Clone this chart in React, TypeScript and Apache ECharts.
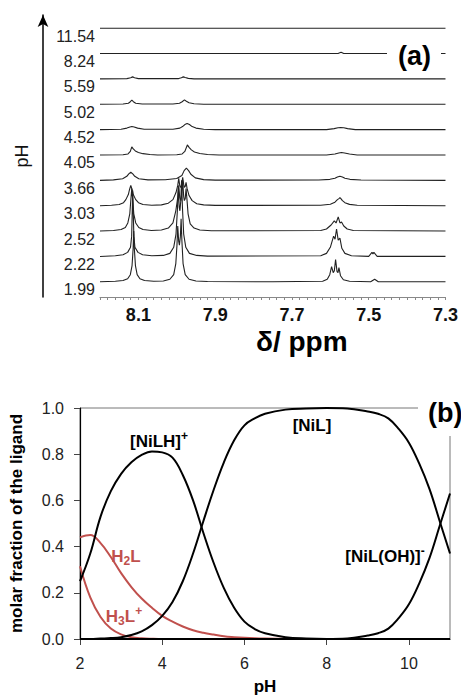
import React, { useEffect, useRef } from 'react';
import * as echarts from 'echarts';

const FONT = '"Liberation Sans", Arial, Helvetica, sans-serif';
const RED = '#c0504d';

// ---------- panel (a): 1H NMR spectra ----------
const PH_LABELS = ['1.99', '2.22', '2.52', '3.03', '3.66', '4.05', '4.52', '5.02', '5.59', '8.24', '11.54'];
const PPM_LABELS = [8.1, 7.9, 7.7, 7.5, 7.3];
const TRACE_STEP = 25; // intensity units between stacked traces

// [ppm, intensity]
const S_199 = [[8.2,0],[8.16,0.5],[8.14,1.2],[8.128,3],[8.121,7],[8.1165,16],[8.1138,32],[8.1121,50],[8.1104,32],[8.1077,16],[8.1032,7],[8.096,3],[8.084,1.2],[8.06,0.5],
  [8.035,0.8],[8.018,2.5],[8.008,7],[8.0025,18],[7.9995,36],[7.9975,55],[7.995,40],[7.9931,36],[7.9906,45],[7.9887,62],[7.9866,40],[7.9836,18],[7.978,7],[7.968,2.5],[7.95,0.8],[7.92,0.3],
  [7.75,0],[7.62,0.6],[7.608,2.5],[7.6015,7],[7.5967,15],[7.5925,9],[7.5895,11],[7.5863,22],[7.5825,10],[7.58,9],[7.5776,14],[7.5735,6],[7.566,2],[7.55,0.6],
  [7.495,0],[7.4845,2.5],[7.475,0],[7.3,0]];
const S_222 = [[8.2,0],[8.16,0.7],[8.14,1.6],[8.128,4],[8.1205,9],[8.1175,20],[8.1163,40],[8.1147,65],[8.1131,40],[8.1118,20],[8.109,9],[8.101,4],[8.089,1.6],[8.065,0.7],
  [8.035,1],[8.018,3],[8.008,9],[8.002,22],[7.9985,45],[7.996,68],[7.9935,48],[7.9918,45],[7.9895,55],[7.9875,75],[7.9852,48],[7.982,22],[7.9765,9],[7.967,3],[7.948,1],[7.92,0.3],
  [7.625,0.7],[7.61,3],[7.6,9],[7.5945,16],[7.5915,20],[7.5877,17],[7.5838,27],[7.5795,16],[7.575,18],[7.57,8],[7.562,3],[7.545,0.7],
  [7.5,0],[7.4915,4],[7.489,2.5],[7.4865,4],[7.478,0],[7.3,0]];
const S_252 = [[8.2,0],[8.165,0.6],[8.145,1.5],[8.134,3.5],[8.1275,8],[8.1224,17],[8.1198,30],[8.1172,42],[8.1146,30],[8.112,17],[8.1069,8],[8.099,3.5],[8.088,1.5],[8.066,0.6],
  [8.04,1],[8.022,3],[8.01,8],[8.0025,20],[7.9975,33],[7.9949,45],[7.9923,33],[7.9897,30],[7.9872,36],[7.9846,50],[7.982,34],[7.9802,30],[7.978,32],[7.9758,42],[7.9732,30],[7.9706,17],[7.965,7],[7.955,3],[7.94,1],[7.91,0.3],
  [7.625,0.5],[7.61,2],[7.598,6],[7.5897,10],[7.585,8],[7.5794,14],[7.575,8],[7.5708,9],[7.565,5],[7.556,2],[7.54,0.5],[7.3,0]];
const S_303 = [[8.2,0],[8.17,0.5],[8.15,1.2],[8.1387,3],[8.1327,6],[8.1262,11],[8.123,16],[8.1198,20],[8.1166,16],[8.1134,11],[8.1069,6],[8.0998,3],[8.088,1.2],[8.065,0.5],
  [8.04,0.8],[8.022,2.5],[8.01,6],[8.002,13],[7.9975,20],[7.9949,27],[7.9923,20],[7.9897,18],[7.9872,21],[7.9846,28],[7.982,21],[7.9802,18],[7.978,19],[7.9758,23],[7.9732,17],[7.968,10],[7.96,5],[7.948,2],[7.93,0.8],[7.9,0.3],
  [7.625,0.4],[7.6,1.5],[7.588,3.5],[7.5815,6],[7.5775,7],[7.575,8],[7.5725,7],[7.5685,5],[7.562,3],[7.55,1.3],[7.53,0.4],[7.3,0]];
const S_366 = [[8.2,0],[8.165,0.5],[8.141,1.6],[8.1302,4],[8.125,6.4],[8.1198,8],[8.1146,6.4],[8.1094,4],[8.099,1.6],[8.075,0.5],
  [8.03,0.6],[8.0,1.8],[7.9867,4.8],[7.9808,9.6],[7.975,12],[7.9692,9.6],[7.9633,6],[7.9517,2.4],[7.93,0.7],[7.9,0.2],
  [7.63,0.3],[7.601,1],[7.588,2],[7.5815,3.2],[7.575,4],[7.5685,3.2],[7.562,2],[7.549,1],[7.52,0.3],[7.3,0]];
const S_405 = [[8.2,0],[8.14,0.3],[8.127,1],[8.121,3.5],[8.1172,8],[8.1133,6],[8.108,4],[8.1,2.5],[8.088,1.3],[8.07,0.5],[8.05,0],
  [8.0,0.3],[7.986,1],[7.979,3.5],[7.9724,10],[7.968,7.5],[7.962,5],[7.954,3],[7.94,1.5],[7.92,0.5],[7.89,0],
  [7.61,0],[7.588,1],[7.578,2],[7.571,2.5],[7.563,2],[7.55,1],[7.53,0],[7.3,0]];
const S_452 = [[8.2,0],[8.145,0.3],[8.13,1.5],[8.122,2.6],[8.117,3],[8.111,2.6],[8.102,1.5],[8.085,0.3],
  [8.01,0.4],[7.992,1.5],[7.985,3],[7.979,5],[7.973,6],[7.967,5],[7.96,3],[7.95,1.5],[7.93,0.4],[7.9,0],
  [7.61,0],[7.59,1],[7.58,1.8],[7.573,2],[7.565,1.8],[7.555,1],[7.535,0],[7.3,0]];
const S_502 = [[8.2,0],[8.14,0.3],[8.126,1],[8.121,2.5],[8.117,4],[8.113,2.5],[8.107,1],[8.09,0.3],
  [8.01,0.3],[7.993,1],[7.986,2.5],[7.98,4.3],[7.975,3],[7.968,1.5],[7.955,0.5],[7.93,0],[7.3,0]];
const S_559 = [[8.2,0],[8.13,0.3],[8.12,1.2],[8.115,2],[8.11,1.2],[8.1,0.3],
  [7.995,0.3],[7.988,1.2],[7.983,2],[7.978,1.3],[7.97,0.5],[7.955,0],[7.3,0]];
const S_824 = [[8.2,0],[7.58,0],[7.572,1.2],[7.565,0],[7.3,0]];
const S_1154 = [[8.2,0],[7.3,0]];
const SPECTRA = [S_199, S_222, S_252, S_303, S_366, S_405, S_452, S_502, S_559, S_824, S_1154];

// ---------- panel (b): speciation ----------
const PH = [2, 2.25, 2.5, 2.75, 3, 3.25, 3.5, 3.75, 4, 4.25, 4.5, 4.75, 5, 5.25, 5.5, 5.75, 6, 6.25, 6.5, 7, 7.5, 8, 8.5, 9, 9.25, 9.5, 9.75, 10, 10.25, 10.5, 10.75, 11];
const H3L = [0.315, 0.18, 0.095, 0.045, 0.02, 0.008, 0.003, 0.001, 0, 0, 0, 0, 0, 0, 0, 0, 0, 0, 0, 0, 0, 0, 0, 0, 0, 0, 0, 0, 0, 0, 0, 0];
const H2L = [0.44, 0.45, 0.415, 0.355, 0.285, 0.225, 0.175, 0.135, 0.10, 0.075, 0.054, 0.038, 0.027, 0.019, 0.012, 0.008, 0.005, 0.003, 0.002, 0.001, 0, 0, 0, 0, 0, 0, 0, 0, 0, 0, 0, 0];
const NILH = [0.25, 0.37, 0.53, 0.64, 0.715, 0.765, 0.797, 0.812, 0.808, 0.785, 0.71, 0.60, 0.46, 0.33, 0.22, 0.135, 0.075, 0.043, 0.025, 0.008, 0.002, 0, 0, 0, 0, 0, 0, 0, 0, 0, 0, 0];
const NIL = [0, 0, 0.002, 0.004, 0.008, 0.017, 0.033, 0.06, 0.10, 0.16, 0.25, 0.37, 0.51, 0.645, 0.765, 0.86, 0.925, 0.955, 0.975, 0.993, 0.998, 1.0, 0.998, 0.985, 0.975, 0.955, 0.91, 0.85, 0.76, 0.65, 0.51, 0.37];
const NILOH = [0, 0, 0, 0, 0, 0, 0, 0, 0, 0, 0, 0, 0, 0, 0, 0, 0, 0, 0, 0, 0, 0, 0.002, 0.015, 0.025, 0.045, 0.09, 0.15, 0.24, 0.35, 0.49, 0.63];

const pair = (ys: number[]) => PH.map((x, i) => [x, ys[i]]);

export default function App() {
  const ref = useRef<HTMLDivElement>(null);
  useEffect(() => {
    if (!ref.current) return;
    const chart = echarts.init(ref.current, undefined, { renderer: 'svg' });

    const spectraSeries = SPECTRA.map((pts, i) => ({
      type: 'line',
      xAxisIndex: 0,
      yAxisIndex: 0,
      data: pts.map(([p, v]) => [p, v + i * TRACE_STEP]),
      showSymbol: false,
      silent: true,
      lineStyle: { color: '#222', width: 1.1 },
    }));

    const spec = (data: number[], color: string) => ({
      type: 'line',
      xAxisIndex: 1,
      yAxisIndex: 2,
      data: pair(data),
      smooth: 0.4,
      showSymbol: false,
      silent: true,
      lineStyle: { color, width: 2 },
    });

    const lblStyle = (text: string, color: string) => ({
      text,
      fill: color,
      font: `bold 17px ${FONT}`,
      align: 'center',
      verticalAlign: 'middle',
      rich: {
        m: { fontSize: 17, fontWeight: 'bold', fontFamily: FONT, fill: color, lineHeight: 22, verticalAlign: 'middle' },
        sub: { fontSize: 12, fontWeight: 'bold', fontFamily: FONT, fill: color, lineHeight: 12, verticalAlign: 'bottom' },
        sup: { fontSize: 12, fontWeight: 'bold', fontFamily: FONT, fill: color, lineHeight: 12, verticalAlign: 'top' },
      },
    });

    const option: any = {
      animation: false,
      textStyle: { fontFamily: FONT },
      title: [
        { text: '(a)', left: 387, top: 39, padding: [3, 10, 5, 11], backgroundColor: '#fff',
          textStyle: { fontSize: 27, fontWeight: 'bold', color: '#000', fontFamily: FONT } },
        { text: '(b)', left: 418, top: 395, padding: [4, 6, 10, 10], backgroundColor: '#fff',
          textStyle: { fontSize: 27, fontWeight: 'bold', color: '#000', fontFamily: FONT } },
      ],
      grid: [
        { left: 100, right: 13, top: 15, height: 282 },
        { left: 79, right: 11, top: 408, height: 241, show: true, borderColor: '#777', borderWidth: 1, backgroundColor: 'transparent' },
      ],
      xAxis: [
        {
          gridIndex: 0, type: 'value', min: 7.3, max: 8.2, inverse: true, interval: 0.02, position: 'bottom',
          axisLine: { onZero: false, lineStyle: { color: '#888', width: 1 } },
          axisTick: { length: 3, lineStyle: { color: '#888' } },
          splitLine: { show: false },
          axisLabel: { customValues: PPM_LABELS, formatter: (v: number) => v.toFixed(1), fontSize: 18, fontWeight: 'bold', color: '#111', margin: 9 },
          name: 'δ/ ppm', nameLocation: 'middle', nameGap: 30,
          nameTextStyle: { fontSize: 28, fontWeight: 'bold', color: '#000', padding: [0, 0, 0, 58] },
        },
        {
          gridIndex: 1, type: 'value', min: 2, max: 11, interval: 2, position: 'bottom',
          axisLine: { onZero: false, lineStyle: { color: '#000', width: 1.2 } },
          axisTick: { length: 6, lineStyle: { color: '#444' } },
          splitLine: { show: false },
          axisLabel: { fontSize: 16, color: '#222', margin: 16, showMaxLabel: false },
          name: 'pH', nameLocation: 'middle', nameGap: 39,
          nameTextStyle: { fontSize: 17, fontWeight: 'bold', color: '#000' },
        },
      ],
      yAxis: [
        {
          gridIndex: 0, type: 'value', min: -15, max: 263, position: 'left',
          axisLine: { show: false, onZero: false }, axisTick: { show: false }, splitLine: { show: false },
          axisLabel: {
            customValues: PH_LABELS.map((_, i) => i * TRACE_STEP),
            formatter: (v: number) => PH_LABELS[Math.round(v / TRACE_STEP)] ?? '',
            fontSize: 16, color: '#222', margin: 5, verticalAlign: 'top',
          },
        },
        {
          gridIndex: 0, type: 'value', min: -15, max: 263, position: 'left', offset: 57,
          axisLine: { show: true, onZero: false, symbol: ['none', 'arrow'], symbolSize: [8, 12], lineStyle: { color: '#000', width: 1.5 } },
          axisTick: { show: false }, axisLabel: { show: false }, splitLine: { show: false },
          name: 'pH', nameLocation: 'middle', nameGap: 12, nameRotate: 90,
          nameTextStyle: { fontSize: 18, color: '#111' },
        },
        {
          gridIndex: 1, type: 'value', min: 0, max: 1, interval: 0.2, position: 'left',
          axisLine: { show: true, onZero: false, lineStyle: { color: '#000', width: 1.2 } },
          axisTick: { show: true, length: 6, lineStyle: { color: '#444' } },
          splitLine: { show: false },
          axisLabel: { fontSize: 16, color: '#222', margin: 16, formatter: (v: number) => v.toFixed(1) },
          name: 'molar fraction of the ligand', nameLocation: 'middle', nameGap: 55, nameRotate: 90,
          nameTextStyle: { fontSize: 17, fontWeight: 'bold', color: '#000' },
        },
      ],
      graphic: [
        { type: 'text', x: 159, y: 441, z: 10, style: lblStyle('{m|[NiLH]}{sup|+}', '#000') },
        { type: 'text', x: 312, y: 425, z: 10, style: lblStyle('{m|[NiL]}', '#000') },
        { type: 'text', x: 385, y: 556, z: 10, style: lblStyle('{m|[NiL(OH)]}{sup|-}', '#000') },
        { type: 'text', x: 126, y: 556, z: 10, style: lblStyle('{m|H}{sub|2}{m|L}', RED) },
        { type: 'text', x: 124, y: 616, z: 10, style: lblStyle('{m|H}{sub|3}{m|L}{sup|+}', RED) },
      ],
      series: [
        ...spectraSeries,
        spec(H3L, RED),
        spec(H2L, RED),
        spec(NILH, '#000'),
        spec(NIL, '#000'),
        spec(NILOH, '#000'),
      ],
    };
    chart.setOption(option);
    return () => chart.dispose();
  }, []);
  return (
    <div
      ref={ref}
      style={{ position: 'fixed', left: 0, top: 0, width: 461, height: 696, background: '#fff' }}
    />
  );
}
